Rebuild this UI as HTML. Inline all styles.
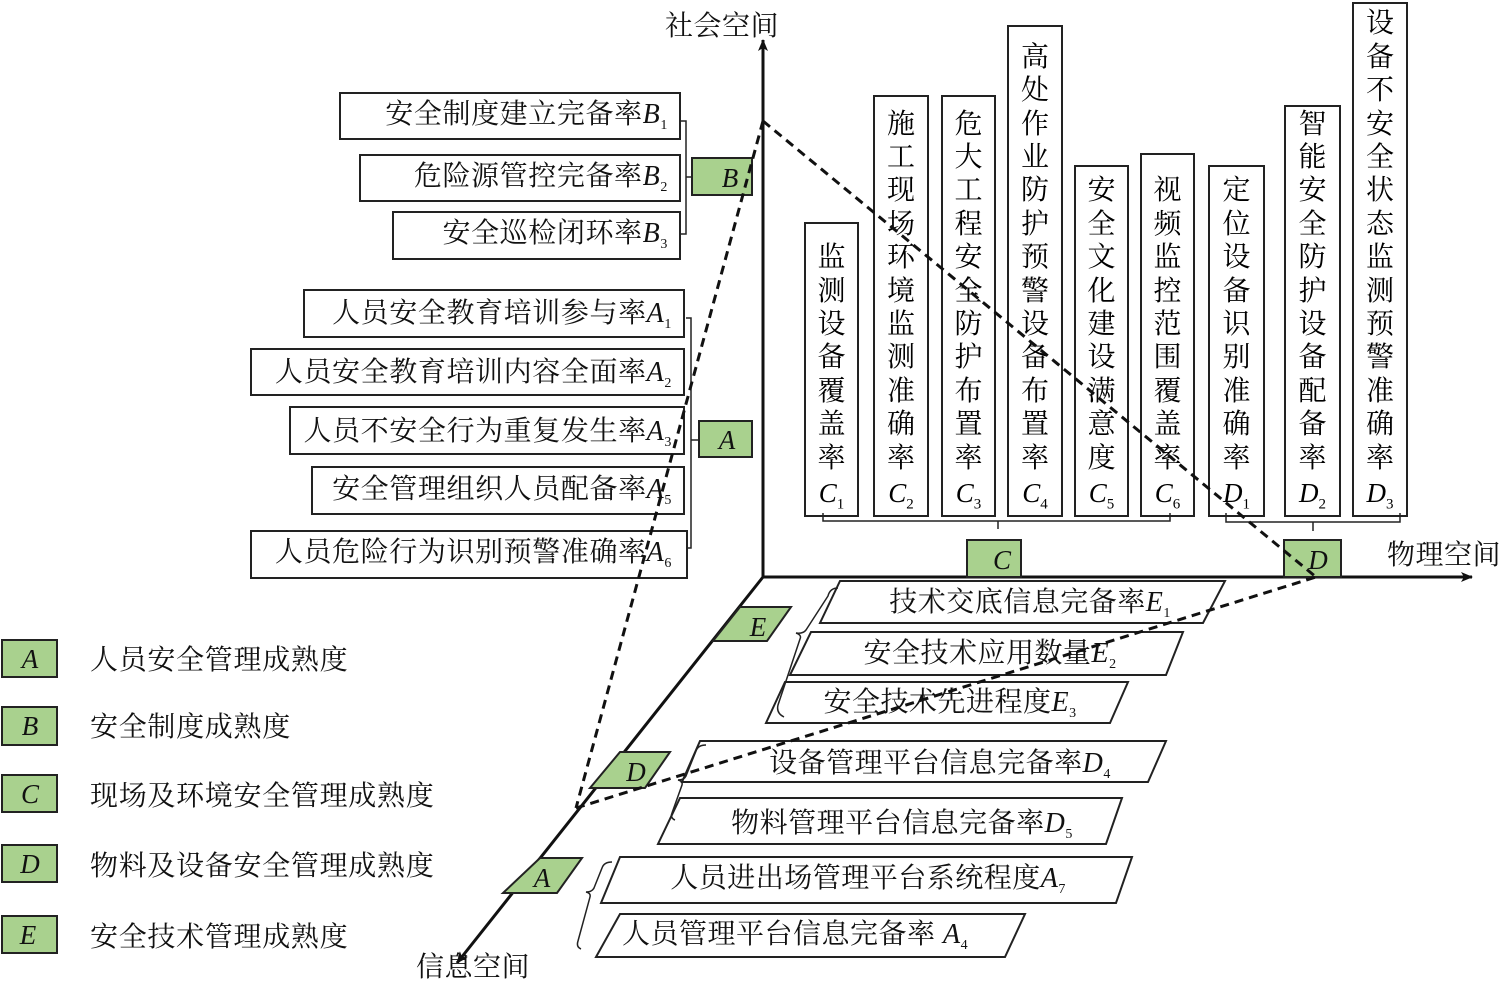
<!DOCTYPE html>
<html><head><meta charset="utf-8">
<style>
body{margin:0;width:1500px;height:982px;background:#fff;overflow:hidden;position:relative;font-family:"Liberation Serif","Noto Serif CJK SC",serif;}
.col{position:absolute;border:2px solid #222;box-sizing:border-box;bottom:465px;}
.col .t{position:absolute;left:0;right:0;bottom:40px;text-align:center;font-size:28px;line-height:33.4px;}
.col .l{position:absolute;left:0;right:0;bottom:2px;text-align:center;font-size:27px;font-style:italic;}
.col .l sub{font-style:normal;font-size:15px;}
</style></head><body>
<svg width="1500" height="982" style="position:absolute;left:0;top:0" font-family="Liberation Serif, Noto Serif CJK SC, serif">
<defs><marker id="ar" markerWidth="12" markerHeight="10" refX="11" refY="5" orient="auto" markerUnits="userSpaceOnUse"><path d="M0,0 L12,5 L0,10 L3,5z" fill="#111"/></marker></defs>
<g stroke="#111" stroke-width="3" fill="none">
<line x1="763" y1="577" x2="763" y2="40" marker-end="url(#ar)"/>
<line x1="763" y1="577" x2="1472" y2="577" marker-end="url(#ar)"/>
<line x1="763" y1="577" x2="457" y2="963" marker-end="url(#ar)"/>
</g>
<g font-size="28" fill="#111" letter-spacing="0.5">
<text x="665" y="35">社会空间</text>
<text x="1387" y="564">物理空间</text>
<text x="416" y="976">信息空间</text>
</g>
<g stroke="#222" stroke-width="2" fill="#fff">
<rect x="340" y="93" width="340" height="46"/>
<rect x="360" y="155" width="320" height="46"/>
<rect x="393" y="212" width="287" height="47"/>
<rect x="304" y="290" width="380" height="47"/>
<rect x="251" y="349" width="433" height="46"/>
<rect x="290" y="407" width="394" height="47"/>
<rect x="312" y="467" width="372" height="47"/>
<rect x="251" y="531" width="436" height="47"/>
</g>
<g stroke="#222" stroke-width="1.5" fill="none">
<path d="M681,121 h5 v113 h-5 M686,177 h6"/>
<path d="M686,318 h5 v230 h-5 M691,440 h8"/>
<path d="M823,513 v8 h347 v-8 M998,521 v8"/>
<path d="M1226,513 v9 h174 v-9 M1313,522 v9"/>
</g>
<g font-size="28" fill="#111" text-anchor="end" letter-spacing="0.6">
<text x="668" y="123">安全制度建立完备率<tspan font-style="italic">B</tspan><tspan font-size="14" dy="6">1</tspan></text>
<text x="668" y="185">危险源管控完备率<tspan font-style="italic">B</tspan><tspan font-size="14" dy="6">2</tspan></text>
<text x="668" y="242">安全巡检闭环率<tspan font-style="italic">B</tspan><tspan font-size="14" dy="6">3</tspan></text>
<text x="672" y="322">人员安全教育培训参与率<tspan font-style="italic">A</tspan><tspan font-size="14" dy="6">1</tspan></text>
<text x="672" y="381">人员安全教育培训内容全面率<tspan font-style="italic">A</tspan><tspan font-size="14" dy="6">2</tspan></text>
<text x="672" y="440">人员不安全行为重复发生率<tspan font-style="italic">A</tspan><tspan font-size="14" dy="6">3</tspan></text>
<text x="672" y="498">安全管理组织人员配备率<tspan font-style="italic">A</tspan><tspan font-size="14" dy="6">5</tspan></text>
<text x="672" y="561">人员危险行为识别预警准确率<tspan font-style="italic">A</tspan><tspan font-size="14" dy="6">6</tspan></text>
</g>
<g stroke="#222" stroke-width="2" fill="#a9d18e">
<rect x="692" y="158" width="60" height="37"/>
<rect x="699" y="421" width="53" height="36"/>
<rect x="967" y="540" width="54" height="37"/>
<rect x="1284" y="540" width="57" height="37"/>
<rect x="2" y="640" width="55" height="37"/>
<rect x="2" y="707" width="55" height="38"/>
<rect x="2" y="775" width="55" height="37"/>
<rect x="2" y="845" width="55" height="37"/>
<rect x="2" y="916" width="55" height="37"/>
<polygon points="740,607 791,607 767,641 713,641"/>
<polygon points="620,752 670,752 645,788 590,788"/>
<polygon points="540,858 582,858 557,893 503,893"/>
</g>
<g font-size="27" fill="#111" font-style="italic" text-anchor="middle">
<text x="730" y="187">B</text>
<text x="727" y="449">A</text>
<text x="1002" y="569">C</text>
<text x="1318" y="569">D</text>
<text x="30" y="668">A</text>
<text x="30" y="735">B</text>
<text x="30" y="803">C</text>
<text x="30" y="873">D</text>
<text x="28" y="944">E</text>
<text x="758" y="636">E</text>
<text x="636" y="781">D</text>
<text x="542" y="887">A</text>
</g>
<g font-size="28" fill="#111" letter-spacing="0.7">
<text x="90" y="669">人员安全管理成熟度</text>
<text x="90" y="736">安全制度成熟度</text>
<text x="90" y="805">现场及环境安全管理成熟度</text>
<text x="90" y="875">物料及设备安全管理成熟度</text>
<text x="90" y="946">安全技术管理成熟度</text>
</g>
<g stroke="#222" stroke-width="2" fill="#fff">
<polygon points="840,581 1225,581 1203,623 820,623"/>
<polygon points="811,632 1183,632 1166,675 790,675"/>
<polygon points="785,682 1128,682 1110,723 766,723"/>
<polygon points="700,741 1166,741 1148,782 682,782"/>
<polygon points="680,798 1122,798 1106,844 658,844"/>
<polygon points="620,857 1132,857 1116,903 601,903"/>
<polygon points="620,914 1025,914 1005,957 596,957"/>
</g>
<g stroke="#222" stroke-width="1.5" fill="none">
<path d="M838,588 q-8,0 -10,8 l-22,34 q-3,4 -10,3 q6,2 4,6 l-22,66 q-2,8 6,12"/>
<path d="M706,745 q-8,0 -10,6 l-10,25 q-2,4 -8,4 q5,1 4,5 l-10,28 q-2,5 3,7"/>
<path d="M612,862 q-8,0 -10,6 l-8,20 q-2,4 -8,4 q5,1 4,5 l-12,44 q-2,6 3,8"/>
</g>
<g font-size="28" fill="#111" text-anchor="middle" letter-spacing="0.5">
<text x="1030" y="611">技术交底信息完备率<tspan font-style="italic">E</tspan><tspan font-size="14" dy="6">1</tspan></text>
<text x="990" y="662">安全技术应用数量<tspan font-style="italic">E</tspan><tspan font-size="14" dy="6">2</tspan></text>
<text x="950" y="711">安全技术先进程度<tspan font-style="italic">E</tspan><tspan font-size="14" dy="6">3</tspan></text>
<text x="940" y="772">设备管理平台信息完备率<tspan font-style="italic">D</tspan><tspan font-size="14" dy="6">4</tspan></text>
<text x="902" y="832">物料管理平台信息完备率<tspan font-style="italic">D</tspan><tspan font-size="14" dy="6">5</tspan></text>
<text x="868" y="887">人员进出场管理平台系统程度<tspan font-style="italic">A</tspan><tspan font-size="14" dy="6">7</tspan></text>
<text x="795" y="943">人员管理平台信息完备率 <tspan font-style="italic">A</tspan><tspan font-size="14" dy="6">4</tspan></text>
</g>
</svg>
<div class="col" style="left:804px;top:222px;width:55px"><div class="t">监<br>测<br>设<br>备<br>覆<br>盖<br>率</div><div class="l">C<sub>1</sub></div></div>
<div class="col" style="left:873px;top:95px;width:56px"><div class="t">施<br>工<br>现<br>场<br>环<br>境<br>监<br>测<br>准<br>确<br>率</div><div class="l">C<sub>2</sub></div></div>
<div class="col" style="left:941px;top:95px;width:55px"><div class="t">危<br>大<br>工<br>程<br>安<br>全<br>防<br>护<br>布<br>置<br>率</div><div class="l">C<sub>3</sub></div></div>
<div class="col" style="left:1007px;top:25px;width:56px"><div class="t">高<br>处<br>作<br>业<br>防<br>护<br>预<br>警<br>设<br>备<br>布<br>置<br>率</div><div class="l">C<sub>4</sub></div></div>
<div class="col" style="left:1074px;top:165px;width:55px"><div class="t">安<br>全<br>文<br>化<br>建<br>设<br>满<br>意<br>度</div><div class="l">C<sub>5</sub></div></div>
<div class="col" style="left:1140px;top:153px;width:55px"><div class="t">视<br>频<br>监<br>控<br>范<br>围<br>覆<br>盖<br>率</div><div class="l">C<sub>6</sub></div></div>
<div class="col" style="left:1208px;top:165px;width:57px"><div class="t">定<br>位<br>设<br>备<br>识<br>别<br>准<br>确<br>率</div><div class="l">D<sub>1</sub></div></div>
<div class="col" style="left:1284px;top:105px;width:57px"><div class="t">智<br>能<br>安<br>全<br>防<br>护<br>设<br>备<br>配<br>备<br>率</div><div class="l">D<sub>2</sub></div></div>
<div class="col" style="left:1352px;top:2px;width:56px"><div class="t">设<br>备<br>不<br>安<br>全<br>状<br>态<br>监<br>测<br>预<br>警<br>准<br>确<br>率</div><div class="l">D<sub>3</sub></div></div>
<svg width="1500" height="982" style="position:absolute;left:0;top:0;pointer-events:none">
<g stroke="#111" stroke-width="3" fill="none" stroke-dasharray="9,6">
<line x1="763" y1="121" x2="1316" y2="577"/>
<line x1="763" y1="121" x2="576" y2="808"/>
<line x1="576" y1="808" x2="1316" y2="577"/>
</g>
</svg>
</body></html>
